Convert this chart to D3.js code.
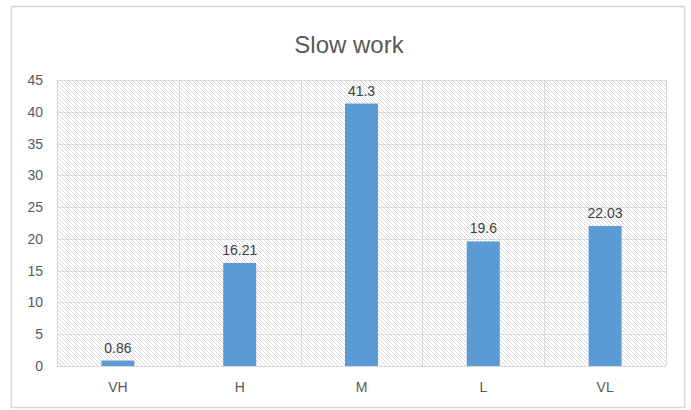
<!DOCTYPE html>
<html><head><meta charset="utf-8">
<script src="https://cdn.jsdelivr.net/npm/d3@7"></script>
<style>body{margin:0;background:#fff}svg{display:block}</style>
</head><body>
<script>
const categories = ["VH","H","M","L","VL"];
const values = [0.86,16.21,41.3,19.6,22.03];
const valueLabels = ["0.86","16.21","41.3","19.6","22.03"];
const yTicks = [0,5,10,15,20,25,30,35,40,45];
const title = "Slow work";

const W=691,H=410;
const svg=d3.select("body").append("svg").attr("width",W).attr("height",H);
const font="'Liberation Sans', Arial, sans-serif";
const defs=svg.append("defs");
const pat=defs.append("pattern").attr("id","hatch").attr("patternUnits","userSpaceOnUse")
  .attr("width",4).attr("height",4);
pat.append("rect").attr("width",4).attr("height",4).attr("fill","#fff");
pat.append("path").attr("d","M-1,-1 L5,5 M-1,3 L1,5 M3,-1 L5,1").attr("stroke","#d9d9d9").attr("stroke-width",1);

svg.append("rect").attr("x",11.5).attr("y",6.5).attr("width",673).attr("height",401)
  .attr("fill","#fff").attr("stroke","#d9d9d9").attr("stroke-width",1.5);

const m={l:57,r:666,t:80,b:366};
const x=d3.scaleBand().domain(categories).range([m.l,m.r]).paddingInner(0).paddingOuter(0);
const y=d3.scaleLinear().domain([0,45]).range([m.b,m.t]);

svg.append("rect").attr("x",m.l).attr("y",m.t).attr("width",m.r-m.l).attr("height",m.b-m.t).attr("fill","url(#hatch)");

const g=svg.append("g");
g.selectAll(".hg").data(yTicks).join("line")
  .attr("x1",m.l).attr("x2",m.r).attr("y1",d=>Math.round(y(d))+0.5).attr("y2",d=>Math.round(y(d))+0.5)
  .attr("stroke","#d9d9d9").attr("stroke-width",1);
const bounds=categories.map(c=>x(c)).concat([m.r]);
g.selectAll(".vg").data(bounds).join("line")
  .attr("x1",d=>Math.round(d)+0.5).attr("x2",d=>Math.round(d)+0.5).attr("y1",m.t).attr("y2",m.b)
  .attr("stroke","#d9d9d9").attr("stroke-width",1);

const bw=33;
svg.selectAll(".bar").data(values).join("rect")
  .attr("x",(d,i)=>x(categories[i])+x.bandwidth()/2-bw/2)
  .attr("y",d=>y(d)).attr("width",bw).attr("height",d=>y(0)-y(d))
  .attr("fill","#5b9bd5");

svg.selectAll(".vl").data(values).join("text")
  .attr("x",(d,i)=>x(categories[i])+x.bandwidth()/2)
  .attr("y",d=>y(d)-8).attr("text-anchor","middle")
  .attr("font-family",font).attr("font-size",14).attr("fill","#404040")
  .text((d,i)=>valueLabels[i]);

const yAxis=d3.axisLeft(y).tickValues(yTicks).tickSize(0).tickPadding(14);
const ya=svg.append("g").attr("transform",`translate(${m.l},0)`).call(yAxis);
ya.select(".domain").remove();
ya.selectAll("text").attr("font-family",font).attr("font-size",14).attr("fill","#595959");

const xAxis=d3.axisBottom(x).tickSize(0).tickPadding(16);
const xa=svg.append("g").attr("transform",`translate(0,${m.b})`).call(xAxis);
xa.select(".domain").remove();
xa.selectAll("text").attr("font-family",font).attr("font-size",14).attr("fill","#595959");

svg.append("text").attr("x",349).attr("y",53).attr("text-anchor","middle")
  .attr("font-family",font).attr("font-size",24).attr("fill","#595959").text(title);
</script>
</body></html>
